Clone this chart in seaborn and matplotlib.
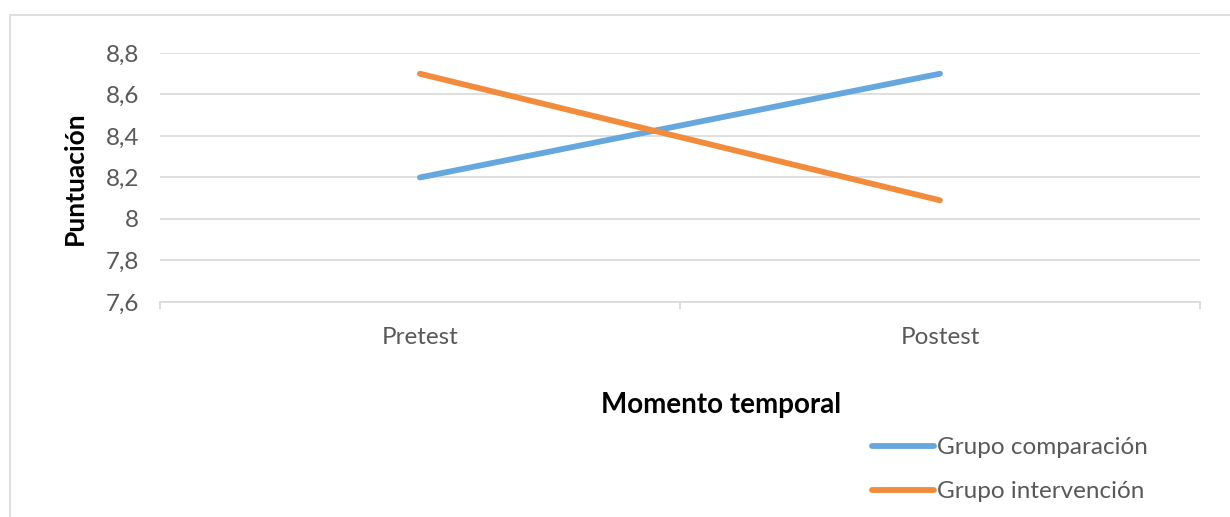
import pandas as pd
import matplotlib
matplotlib.use("Agg")
import matplotlib.pyplot as plt
import matplotlib.patches as patches
from matplotlib.ticker import FuncFormatter, FixedLocator
import seaborn as sns

# Data
momentos = ["Pretest", "Postest"]
grupo_comparacion = [8.2, 8.7]
grupo_intervencion = [8.7, 8.09]
grupos = ["Grupo comparación", "Grupo intervención"]
colores = ["#66A8DD", "#F28C3C"]

df = pd.DataFrame({
    "momento": momentos * 2,
    "puntuacion": grupo_comparacion + grupo_intervencion,
    "grupo": [grupos[0]] * 2 + [grupos[1]] * 2,
})

sns.set_theme(style="white")
plt.rcParams["font.family"] = ["Lato", "DejaVu Sans"]

fig = plt.figure(figsize=(12.3, 5.17), dpi=100)
ax = fig.add_axes([0.130, 0.4159, 0.8456, 0.4816])

sns.lineplot(data=df, x="momento", y="puntuacion", hue="grupo",
             palette=colores, linewidth=4.2, ax=ax, legend=True,
             solid_capstyle="round")

ax.set_xlim(-0.5, 1.5)
ax.set_ylim(7.6, 8.8)
ax.set_yticks([7.6, 7.8, 8.0, 8.2, 8.4, 8.6, 8.8])
ax.yaxis.set_major_formatter(FuncFormatter(lambda v, p: f"{v:g}".replace(".", ",")))
ax.grid(axis="y", color="#D9D9D9", linewidth=1.2)
ax.set_axisbelow(True)
for s in ["left", "right", "top"]:
    ax.spines[s].set_visible(False)
ax.spines["bottom"].set_color("#D9D9D9")
ax.spines["bottom"].set_linewidth(1.2)

ax.xaxis.set_minor_locator(FixedLocator([-0.5, 0.5, 1.5]))
ax.tick_params(axis="x", which="minor", length=5, color="#D9D9D9", width=1.2,
               direction="out", bottom=True)
ax.tick_params(axis="x", which="major", length=0, pad=18, labelsize=17.5, labelcolor="#595959")
ax.tick_params(axis="y", length=0, pad=15, labelsize=17.5, labelcolor="#595959")

ax.set_xlabel("")
ax.set_ylabel("")
fig.text(0.061, 0.655, "Puntuación", rotation=90, ha="center", va="center",
         fontsize=19, fontweight="bold", color="black")
fig.text(0.586, 0.2166, "Momento temporal", ha="center", va="center",
         fontsize=20, fontweight="bold", color="black")

handles, labels = ax.get_legend_handles_labels()
ax.legend(handles, labels, loc="upper left", bbox_to_anchor=(0.709, 0.1547),
          bbox_transform=fig.transFigure, frameon=False, fontsize=17.5,
          handlelength=2.55, handletextpad=0.12, labelspacing=0.95,
          borderpad=0, borderaxespad=0, labelcolor="#595959")

# light chart border like the original
fig.patches.append(patches.Rectangle((0.0081, -0.1), 1.1, 1.071,
                                     transform=fig.transFigure, fill=False,
                                     edgecolor="#D9D9D9", linewidth=1.2))

fig.savefig("out.png", dpi=100)
